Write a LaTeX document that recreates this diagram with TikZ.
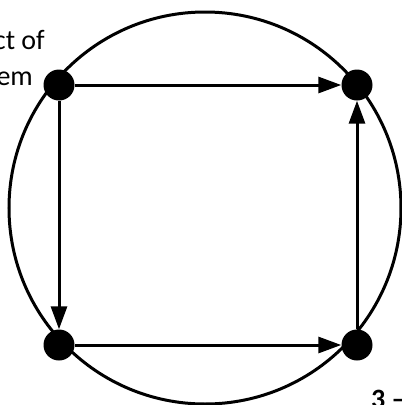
\documentclass[tikz,border=0pt]{standalone}
\usepackage{fontspec}
\setmainfont{Carlito}
\usetikzlibrary{arrows.meta}
\begin{document}
\begin{tikzpicture}[x=1pt,y=-1pt,
  dot/.style={circle,fill=black,inner sep=0pt,minimum size=31pt},
  link/.style={line width=3pt,-{Triangle[length=23pt,width=16pt]}},
  lbl/.style={font=\fontsize{28}{34}\selectfont,inner sep=0pt}]
\useasboundingbox (0,0) rectangle (402,405);
\begin{scope}
\clip (0,0) rectangle (402,405);
\draw[line width=3pt] (205,208) circle (196);
\node[dot] (tl) at (59,85) {};
\node[dot] (tr) at (357,85) {};
\node[dot] (bl) at (59,345) {};
\node[dot] (br) at (357,345) {};
\draw[link] (tl) -- (tr);
\draw[link] (tl) -- (bl);
\draw[link] (bl) -- (br);
\draw[link] (br) -- (tr);
\node[lbl,anchor=base east] (t1) at (45,49) {ct of};
\node[lbl,anchor=base east] (t2) at (33,85) {em};
\node[lbl,anchor=base west,font=\fontsize{28}{34}\selectfont\bfseries] (t3) at (371,408) {3 –};
\end{scope}
\end{tikzpicture}
\end{document}
